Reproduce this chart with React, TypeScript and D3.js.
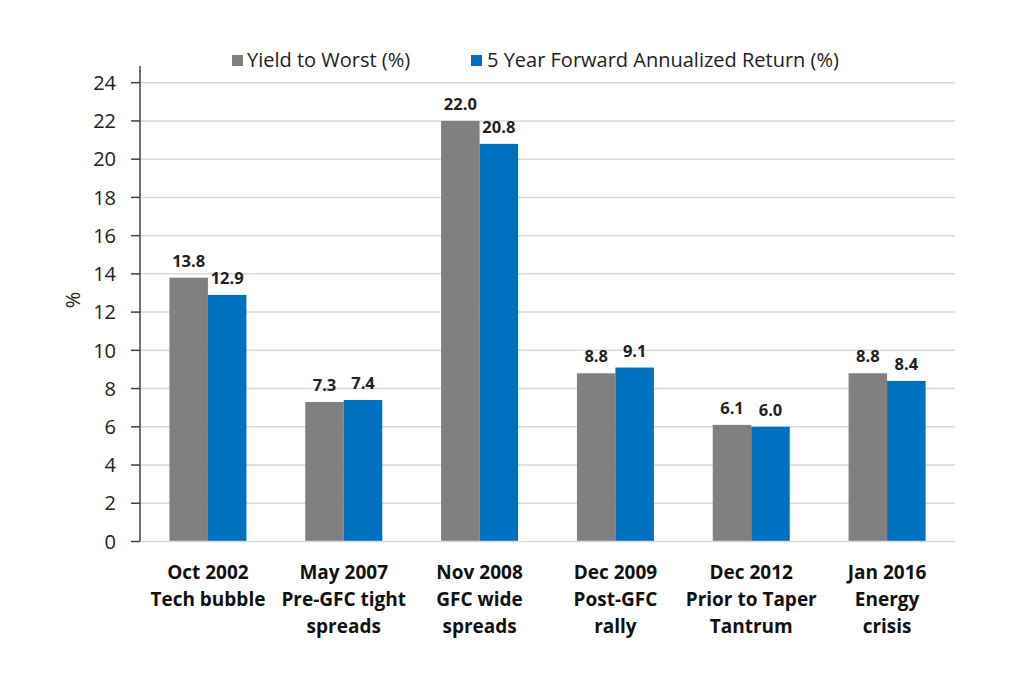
import React from "react";
import * as d3 from "d3";

const categories = [
  ["Oct 2002", "Tech bubble"],
  ["May 2007", "Pre-GFC tight", "spreads"],
  ["Nov 2008", "GFC wide", "spreads"],
  ["Dec 2009", "Post-GFC", "rally"],
  ["Dec 2012", "Prior to Taper", "Tantrum"],
  ["Jan 2016", "Energy", "crisis"],
];
const yieldToWorst = [13.8, 7.3, 22.0, 8.8, 6.1, 8.8];
const forwardReturn = [12.9, 7.4, 20.8, 9.1, 6.0, 8.4];
const seriesNames = ["Yield to Worst (%)", "5 Year Forward Annualized Return (%)"];
const yTicks = [0, 2, 4, 6, 8, 10, 12, 14, 16, 18, 20, 22, 24];

const COLORS = ["#808080", "#0070c0"];
const FONT = "'Open Sans', 'Noto Sans', sans-serif";

export default function App() {
  const W = 1024, H = 683;
  const left = 140, right = 955, top = 82.7, bottom = 541.5;
  const x = d3.scaleBand<number>().domain(d3.range(categories.length)).range([left, right]).paddingInner(0).paddingOuter(0);
  const y = d3.scaleLinear().domain([0, 24]).range([bottom, top]);
  const series = [yieldToWorst, forwardReturn];
  const barW = 38.5;

  return (
    <svg width={W} height={H} style={{ position: "absolute", left: 0, top: 0, background: "#fff" }}>
      <rect width={W} height={H} fill="#fff" />
      {yTicks.map((t) => (
        <g key={t}>
          {t > 0 && <line x1={left} x2={right} y1={y(t)} y2={y(t)} stroke="#d9d9d9" strokeWidth={1.5} />}
          <line x1={131} x2={left} y1={y(t)} y2={y(t)} stroke="#404040" strokeWidth={1.5} />
          <text x={116} y={y(t)} dy="0.36em" textAnchor="end" fontFamily={FONT} fontSize={20} fill="#222">
            {t}
          </text>
        </g>
      ))}
      {categories.map((_, i) =>
        series.map((s, j) => {
          const cx = x(i)! + x.bandwidth() / 2;
          const bx = cx - barW + j * barW;
          return (
            <g key={`${i}-${j}`}>
              <rect x={bx} y={y(s[i])} width={barW} height={y(0) - y(s[i])} fill={COLORS[j]} />
              <text
                x={bx + barW / 2}
                y={y(s[i]) - 11}
                textAnchor="middle"
                fontFamily={FONT}
                fontWeight="bold"
                fontSize={16.5}
                fill="#222"
              >
                {s[i].toFixed(1)}
              </text>
            </g>
          );
        })
      )}
      <line x1={left} x2={right} y1={bottom} y2={bottom} stroke="#d9d9d9" strokeWidth={1.5} />
      <line x1={left} x2={left} y1={66} y2={bottom} stroke="#404040" strokeWidth={1.5} />
      {categories.map((lines, i) => (
        <text key={i} textAnchor="middle" fontFamily={FONT} fontWeight="bold" fontSize={19} fill="#111">
          {lines.map((l, k) => (
            <tspan key={k} x={x(i)! + x.bandwidth() / 2} y={579 + k * 27}>
              {l}
            </tspan>
          ))}
        </text>
      ))}
      <text
        transform={`translate(80,300) rotate(-90)`}
        textAnchor="middle"
        fontFamily={FONT}
        fontSize={20}
        fill="#222"
      >
        %
      </text>
      <g>
        <rect x={232} y={55} width={11} height={11} fill={COLORS[0]} />
        <text x={247} y={67} fontFamily={FONT} fontSize={20} fill="#222">
          {seriesNames[0]}
        </text>
        <rect x={471} y={55} width={11} height={11} fill={COLORS[1]} />
        <text x={487} y={67} fontFamily={FONT} fontSize={20} fill="#222">
          {seriesNames[1]}
        </text>
      </g>
    </svg>
  );
}
